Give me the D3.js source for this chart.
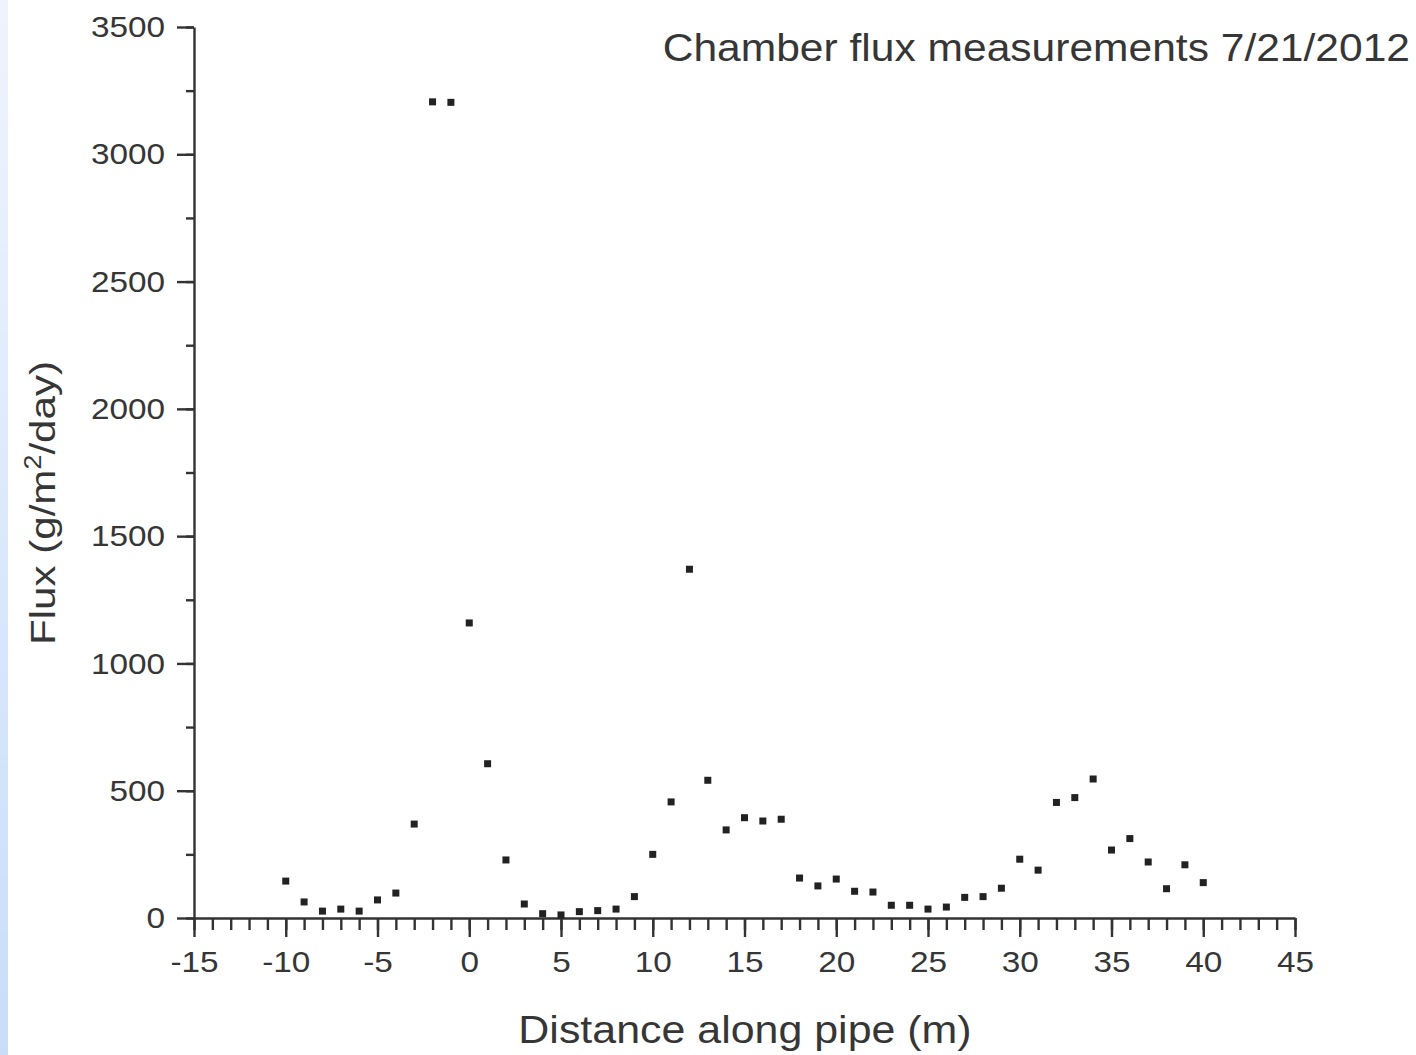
<!DOCTYPE html>
<html>
<head>
<meta charset="utf-8">
<script src="https://cdn.jsdelivr.net/npm/d3@7"></script>
<style>
  body { margin: 0; background: #fff; }
  svg text { font-family: "Liberation Sans", Arial, sans-serif; fill: #363636; }
</style>
</head>
<body>
<div id="chart"></div>
<script>
// distance along pipe (m) and measured flux (g/m2/day)
const distance = [-10, -9, -8, -7, -6, -5, -4, -3, -2, -1, 0, 1, 2, 3, 4, 5, 6, 7, 8, 9,
  10, 11, 12, 13, 14, 15, 16, 17, 18, 19, 20, 21, 22, 23, 24, 25, 26, 27, 28, 29,
  30, 31, 32, 33, 34, 35, 36, 37, 38, 39, 40];
const flux = [145, 63, 27, 35, 27, 71, 98, 369, 3206, 3204, 1159, 606, 228, 55, 17, 12, 25, 29, 35, 84,
  250, 456, 1370, 541, 346, 394, 381, 388, 157, 126, 153, 105, 102, 50, 50, 35, 43, 81, 84, 117,
  231, 188, 454, 473, 546, 267, 312, 220, 115, 209, 139];

const xMajor = [-15, -10, -5, 0, 5, 10, 15, 20, 25, 30, 35, 40, 45];
const yMajor = [0, 500, 1000, 1500, 2000, 2500, 3000, 3500];

const width = 1416, height = 1055;
const margin = { top: 27, right: 121, bottom: 137, left: 194 };

const svg = d3.select("#chart").append("svg")
  .attr("width", width)
  .attr("height", height);

// scanned-slide blue edge on the left
const grad = svg.append("defs").append("linearGradient")
  .attr("id", "edge").attr("x1", 0).attr("y1", 0).attr("x2", 0).attr("y2", 1);
grad.append("stop").attr("offset", "0%").attr("stop-color", "#eef4fd");
grad.append("stop").attr("offset", "100%").attr("stop-color", "#c9ddf9");
svg.append("rect").attr("x", 0).attr("y", 0).attr("width", 8).attr("height", height)
  .attr("fill", "url(#edge)");

const x = d3.scaleLinear().domain([-15, 45]).range([margin.left, width - margin.right]);
const y = d3.scaleLinear().domain([0, 3500]).range([height - margin.bottom, margin.top]);

const axisColor = "#333";
const widen = 1.11; // the scanned lettering is a bit wider than Arial

function stretchLabels(g) {
  g.selectAll("text")
    .attr("font-size", 30)
    .attr("fill", "#363636")
    .each(function () {
      const w = this.getComputedTextLength();
      d3.select(this).attr("textLength", w * widen).attr("lengthAdjust", "spacingAndGlyphs");
    });
}

// y axis: minor ticks every 250, major every 500
svg.append("g")
  .attr("transform", `translate(${margin.left},0)`)
  .call(d3.axisLeft(y).tickValues(d3.range(0, 3501, 250)).tickSize(8).tickSizeOuter(0).tickFormat(""))
  .call(g => g.selectAll("line,path").attr("stroke", axisColor).attr("stroke-width", 2.4));
svg.append("g")
  .attr("transform", `translate(${margin.left},0)`)
  .call(d3.axisLeft(y).tickValues(yMajor).tickSize(17).tickSizeOuter(0).tickPadding(12).tickFormat(String))
  .call(g => g.select(".domain").remove())
  .call(g => g.selectAll("line").attr("stroke", axisColor).attr("stroke-width", 2.4))
  .call(stretchLabels);

// x axis: minor ticks every 1, major every 5
svg.append("g")
  .attr("transform", `translate(0,${y(0)})`)
  .call(d3.axisBottom(x).tickValues(d3.range(-15, 46, 1)).tickSize(12).tickSizeOuter(0).tickFormat(""))
  .call(g => g.selectAll("line,path").attr("stroke", axisColor).attr("stroke-width", 2.4));
svg.append("g")
  .attr("transform", `translate(0,${y(0)})`)
  .call(d3.axisBottom(x).tickValues(xMajor).tickSize(19).tickSizeOuter(0).tickPadding(14).tickFormat(String))
  .call(g => g.select(".domain").remove())
  .call(g => g.selectAll("line").attr("stroke", axisColor).attr("stroke-width", 2.4))
  .call(stretchLabels);

// data points as small squares
const s = 7;
svg.append("g").selectAll("rect")
  .data(distance.map((d, i) => ({ d, f: flux[i] })))
  .join("rect")
  .attr("x", p => x(p.d) - s / 2)
  .attr("y", p => y(p.f) - s / 2)
  .attr("width", s)
  .attr("height", s)
  .attr("fill", "#222");

// titles
svg.append("text")
  .attr("transform", "translate(1410,61) scale(1.12,1)")
  .attr("text-anchor", "end")
  .attr("font-size", 38)
  .text("Chamber flux measurements 7/21/2012");

svg.append("text")
  .attr("transform", "translate(745,1043) scale(1.13,1)")
  .attr("text-anchor", "middle")
  .attr("font-size", 38)
  .text("Distance along pipe (m)");

const yt = svg.append("text")
  .attr("transform", "translate(55,503) rotate(-90) scale(1.17,1)")
  .attr("text-anchor", "middle")
  .attr("font-size", 36);
yt.append("tspan").text("Flux (g/m");
yt.append("tspan").attr("dy", -14).attr("font-size", 23).text("2");
yt.append("tspan").attr("dy", 14).text("/day)");
</script>
</body>
</html>
